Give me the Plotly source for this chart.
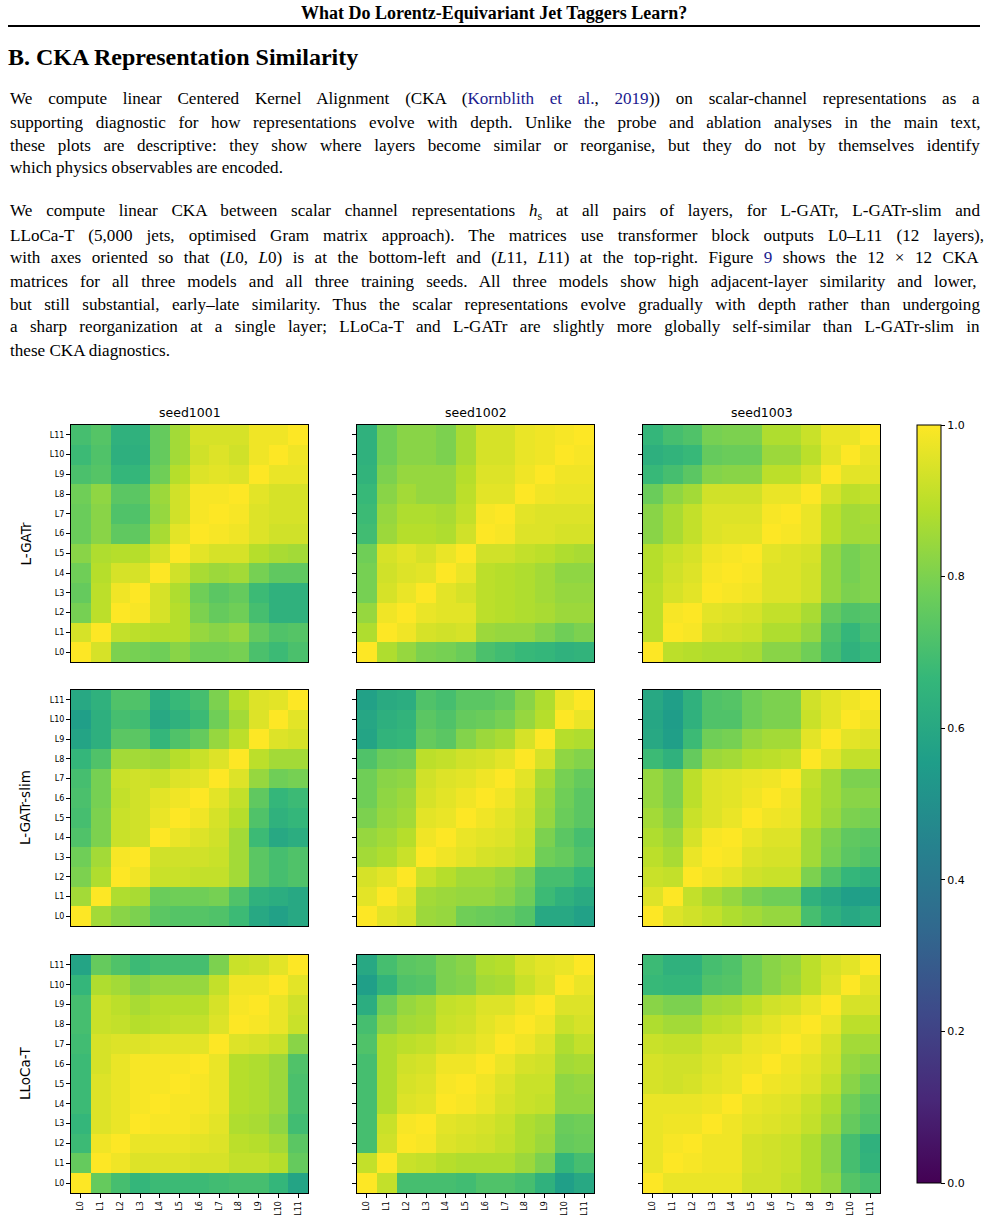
import plotly.graph_objects as go

W, H = 988, 1227

layers = [f"L{i}" for i in range(12)]
seeds = ["seed1001", "seed1002", "seed1003"]
models = ["L-GATr", "L-GATr-slim", "LLoCa-T"]

# Each matrix: rows listed top (L11) to bottom (L0); columns L0..L11
lgatr_s1001 = [
    [0.70, 0.73, 0.64, 0.64, 0.76, 0.86, 0.94, 0.94, 0.94, 0.98, 0.98, 1.00],
    [0.68, 0.72, 0.63, 0.63, 0.76, 0.86, 0.93, 0.95, 0.93, 0.98, 1.00, 0.98],
    [0.71, 0.73, 0.66, 0.66, 0.78, 0.89, 0.95, 0.96, 0.95, 1.00, 0.97, 0.97],
    [0.78, 0.83, 0.74, 0.74, 0.85, 0.93, 0.99, 0.99, 1.00, 0.96, 0.94, 0.94],
    [0.77, 0.82, 0.72, 0.72, 0.84, 0.93, 0.99, 1.00, 0.99, 0.95, 0.94, 0.94],
    [0.77, 0.82, 0.75, 0.75, 0.87, 0.96, 1.00, 0.99, 0.98, 0.95, 0.93, 0.93],
    [0.82, 0.88, 0.89, 0.89, 0.94, 1.00, 0.96, 0.94, 0.94, 0.89, 0.87, 0.86],
    [0.78, 0.89, 0.94, 0.94, 1.00, 0.93, 0.87, 0.85, 0.86, 0.79, 0.75, 0.75],
    [0.76, 0.90, 0.98, 1.00, 0.94, 0.88, 0.78, 0.74, 0.76, 0.68, 0.64, 0.64],
    [0.79, 0.90, 1.00, 0.99, 0.94, 0.89, 0.80, 0.76, 0.78, 0.70, 0.64, 0.64],
    [0.94, 1.00, 0.91, 0.90, 0.89, 0.89, 0.84, 0.82, 0.84, 0.76, 0.72, 0.73],
    [1.00, 0.94, 0.80, 0.79, 0.78, 0.82, 0.78, 0.78, 0.79, 0.71, 0.68, 0.71],
]
lgatr_s1002 = [
    [0.64, 0.78, 0.82, 0.82, 0.80, 0.87, 0.94, 0.94, 0.97, 0.98, 0.99, 1.00],
    [0.64, 0.78, 0.82, 0.82, 0.80, 0.87, 0.94, 0.94, 0.97, 0.98, 1.00, 0.99],
    [0.65, 0.80, 0.84, 0.84, 0.84, 0.89, 0.95, 0.95, 0.98, 1.00, 0.98, 0.98],
    [0.67, 0.82, 0.86, 0.84, 0.84, 0.90, 0.96, 0.96, 1.00, 0.98, 0.97, 0.97],
    [0.68, 0.84, 0.88, 0.88, 0.87, 0.91, 0.99, 1.00, 0.96, 0.95, 0.95, 0.95],
    [0.69, 0.85, 0.89, 0.89, 0.88, 0.93, 1.00, 0.99, 0.95, 0.95, 0.94, 0.94],
    [0.78, 0.94, 0.96, 0.94, 0.97, 1.00, 0.93, 0.93, 0.91, 0.90, 0.88, 0.87],
    [0.79, 0.93, 0.95, 0.96, 1.00, 0.97, 0.90, 0.89, 0.88, 0.86, 0.83, 0.83],
    [0.79, 0.94, 0.97, 1.00, 0.96, 0.94, 0.90, 0.89, 0.88, 0.86, 0.84, 0.84],
    [0.84, 0.98, 1.00, 0.97, 0.96, 0.96, 0.90, 0.89, 0.88, 0.87, 0.85, 0.85],
    [0.88, 1.00, 0.98, 0.94, 0.93, 0.94, 0.85, 0.84, 0.84, 0.81, 0.78, 0.80],
    [1.00, 0.88, 0.84, 0.80, 0.79, 0.77, 0.71, 0.69, 0.67, 0.66, 0.64, 0.65],
]
lgatr_s1003 = [
    [0.66, 0.70, 0.72, 0.79, 0.80, 0.80, 0.88, 0.88, 0.92, 0.97, 0.97, 1.00],
    [0.63, 0.65, 0.67, 0.76, 0.77, 0.77, 0.85, 0.85, 0.90, 0.96, 1.00, 0.97],
    [0.67, 0.70, 0.74, 0.81, 0.82, 0.82, 0.90, 0.90, 0.94, 1.00, 0.96, 0.96],
    [0.77, 0.83, 0.86, 0.93, 0.93, 0.93, 0.97, 0.97, 1.00, 0.94, 0.90, 0.91],
    [0.82, 0.87, 0.91, 0.95, 0.95, 0.95, 0.99, 1.00, 0.97, 0.90, 0.86, 0.87],
    [0.82, 0.87, 0.91, 0.95, 0.96, 0.96, 1.00, 0.99, 0.97, 0.90, 0.86, 0.86],
    [0.89, 0.92, 0.94, 0.98, 0.99, 1.00, 0.96, 0.95, 0.94, 0.84, 0.79, 0.81],
    [0.89, 0.93, 0.95, 0.99, 1.00, 0.99, 0.95, 0.95, 0.93, 0.84, 0.79, 0.81],
    [0.90, 0.94, 0.96, 1.00, 0.99, 0.98, 0.95, 0.95, 0.93, 0.84, 0.80, 0.81],
    [0.90, 0.99, 1.00, 0.96, 0.95, 0.94, 0.91, 0.91, 0.87, 0.76, 0.72, 0.73],
    [0.90, 1.00, 0.99, 0.94, 0.93, 0.92, 0.88, 0.88, 0.84, 0.72, 0.66, 0.70],
    [1.00, 0.90, 0.89, 0.88, 0.88, 0.87, 0.82, 0.82, 0.78, 0.70, 0.64, 0.67],
]
slim_s1001 = [
    [0.60, 0.64, 0.72, 0.72, 0.62, 0.67, 0.70, 0.80, 0.89, 0.95, 0.96, 1.00],
    [0.56, 0.63, 0.70, 0.69, 0.60, 0.64, 0.68, 0.78, 0.86, 0.95, 1.00, 0.96],
    [0.58, 0.63, 0.74, 0.74, 0.66, 0.72, 0.76, 0.84, 0.90, 1.00, 0.95, 0.94],
    [0.66, 0.72, 0.86, 0.86, 0.85, 0.89, 0.92, 0.95, 1.00, 0.90, 0.86, 0.86],
    [0.70, 0.79, 0.92, 0.93, 0.92, 0.95, 0.96, 1.00, 0.95, 0.84, 0.78, 0.79],
    [0.71, 0.79, 0.91, 0.93, 0.96, 0.98, 1.00, 0.96, 0.91, 0.75, 0.66, 0.68],
    [0.70, 0.80, 0.92, 0.93, 0.97, 1.00, 0.98, 0.94, 0.89, 0.72, 0.64, 0.66],
    [0.72, 0.80, 0.92, 0.93, 1.00, 0.97, 0.95, 0.93, 0.86, 0.68, 0.60, 0.62],
    [0.78, 0.86, 0.99, 1.00, 0.93, 0.93, 0.93, 0.92, 0.86, 0.74, 0.70, 0.72],
    [0.80, 0.88, 1.00, 0.98, 0.92, 0.92, 0.91, 0.91, 0.86, 0.74, 0.70, 0.72],
    [0.86, 1.00, 0.88, 0.87, 0.77, 0.78, 0.78, 0.79, 0.72, 0.64, 0.62, 0.60],
    [1.00, 0.86, 0.82, 0.80, 0.74, 0.73, 0.73, 0.72, 0.68, 0.60, 0.57, 0.60],
]
slim_s1002 = [
    [0.57, 0.61, 0.62, 0.72, 0.70, 0.74, 0.74, 0.76, 0.82, 0.88, 0.97, 1.00],
    [0.59, 0.63, 0.65, 0.74, 0.72, 0.76, 0.77, 0.79, 0.84, 0.89, 1.00, 0.97],
    [0.58, 0.65, 0.66, 0.76, 0.74, 0.81, 0.85, 0.87, 0.94, 1.00, 0.89, 0.88],
    [0.72, 0.77, 0.78, 0.90, 0.91, 0.93, 0.94, 0.96, 1.00, 0.94, 0.83, 0.81],
    [0.78, 0.82, 0.83, 0.93, 0.95, 0.96, 0.98, 1.00, 0.96, 0.87, 0.79, 0.76],
    [0.78, 0.83, 0.85, 0.94, 0.96, 0.98, 1.00, 0.98, 0.94, 0.85, 0.78, 0.74],
    [0.80, 0.84, 0.86, 0.96, 0.97, 1.00, 0.98, 0.96, 0.93, 0.84, 0.77, 0.74],
    [0.84, 0.86, 0.89, 0.98, 1.00, 0.97, 0.96, 0.95, 0.92, 0.80, 0.74, 0.70],
    [0.86, 0.88, 0.92, 1.00, 0.98, 0.96, 0.94, 0.93, 0.91, 0.78, 0.76, 0.72],
    [0.94, 0.96, 1.00, 0.92, 0.89, 0.86, 0.86, 0.84, 0.80, 0.70, 0.70, 0.66],
    [0.96, 1.00, 0.96, 0.86, 0.85, 0.84, 0.84, 0.82, 0.78, 0.68, 0.64, 0.61],
    [1.00, 0.96, 0.94, 0.85, 0.84, 0.78, 0.77, 0.76, 0.73, 0.60, 0.60, 0.57],
]
slim_s1003 = [
    [0.60, 0.56, 0.64, 0.72, 0.73, 0.78, 0.80, 0.80, 0.93, 0.96, 0.98, 1.00],
    [0.59, 0.55, 0.64, 0.72, 0.72, 0.78, 0.80, 0.80, 0.92, 0.96, 1.00, 0.98],
    [0.60, 0.56, 0.68, 0.78, 0.79, 0.84, 0.86, 0.86, 0.96, 1.00, 0.96, 0.95],
    [0.68, 0.64, 0.76, 0.85, 0.86, 0.89, 0.90, 0.91, 1.00, 0.96, 0.91, 0.91],
    [0.84, 0.80, 0.90, 0.95, 0.96, 0.97, 0.98, 1.00, 0.91, 0.86, 0.80, 0.80],
    [0.84, 0.80, 0.90, 0.95, 0.96, 0.98, 1.00, 0.98, 0.90, 0.86, 0.82, 0.82],
    [0.86, 0.82, 0.92, 0.95, 0.97, 1.00, 0.98, 0.97, 0.90, 0.85, 0.80, 0.79],
    [0.88, 0.85, 0.94, 0.99, 1.00, 0.97, 0.95, 0.95, 0.86, 0.80, 0.75, 0.74],
    [0.90, 0.87, 0.97, 1.00, 0.99, 0.95, 0.94, 0.94, 0.86, 0.79, 0.74, 0.72],
    [0.92, 0.91, 1.00, 0.98, 0.96, 0.93, 0.92, 0.92, 0.80, 0.72, 0.66, 0.64],
    [0.95, 1.00, 0.91, 0.87, 0.84, 0.80, 0.78, 0.78, 0.64, 0.60, 0.56, 0.56],
    [1.00, 0.95, 0.93, 0.91, 0.88, 0.86, 0.84, 0.84, 0.70, 0.64, 0.60, 0.62],
]
lloca_s1001 = [
    [0.58, 0.76, 0.72, 0.68, 0.70, 0.70, 0.70, 0.80, 0.92, 0.93, 0.96, 1.00],
    [0.66, 0.88, 0.86, 0.82, 0.84, 0.84, 0.84, 0.91, 0.98, 0.98, 1.00, 0.96],
    [0.70, 0.92, 0.90, 0.87, 0.89, 0.89, 0.89, 0.94, 0.99, 1.00, 0.97, 0.93],
    [0.70, 0.92, 0.91, 0.89, 0.90, 0.91, 0.91, 0.95, 1.00, 0.99, 0.97, 0.92],
    [0.69, 0.94, 0.95, 0.95, 0.96, 0.96, 0.96, 1.00, 0.95, 0.94, 0.92, 0.82],
    [0.68, 0.94, 0.97, 0.99, 0.99, 0.99, 1.00, 0.97, 0.89, 0.88, 0.85, 0.72],
    [0.68, 0.95, 0.97, 0.99, 0.99, 1.00, 0.99, 0.97, 0.89, 0.88, 0.85, 0.71],
    [0.68, 0.95, 0.97, 0.99, 1.00, 0.99, 0.99, 0.97, 0.89, 0.88, 0.85, 0.71],
    [0.66, 0.95, 0.97, 1.00, 0.99, 0.99, 0.98, 0.96, 0.88, 0.87, 0.83, 0.69],
    [0.68, 0.98, 1.00, 0.97, 0.97, 0.97, 0.96, 0.95, 0.90, 0.89, 0.86, 0.74],
    [0.76, 1.00, 0.98, 0.95, 0.95, 0.95, 0.94, 0.94, 0.91, 0.91, 0.89, 0.76],
    [1.00, 0.76, 0.70, 0.66, 0.68, 0.68, 0.68, 0.69, 0.70, 0.70, 0.66, 0.58],
]
lloca_s1002 = [
    [0.60, 0.70, 0.74, 0.75, 0.80, 0.82, 0.88, 0.89, 0.94, 0.96, 0.97, 1.00],
    [0.56, 0.65, 0.72, 0.73, 0.80, 0.81, 0.86, 0.87, 0.92, 0.95, 1.00, 0.97],
    [0.62, 0.78, 0.84, 0.86, 0.91, 0.92, 0.95, 0.95, 0.98, 1.00, 0.95, 0.95],
    [0.70, 0.82, 0.86, 0.87, 0.92, 0.93, 0.96, 0.98, 1.00, 0.98, 0.92, 0.94],
    [0.72, 0.88, 0.90, 0.91, 0.94, 0.95, 0.97, 1.00, 0.98, 0.95, 0.88, 0.91],
    [0.70, 0.88, 0.93, 0.94, 0.98, 0.98, 1.00, 0.97, 0.94, 0.93, 0.86, 0.87],
    [0.70, 0.88, 0.94, 0.95, 0.99, 1.00, 0.98, 0.95, 0.92, 0.92, 0.83, 0.84],
    [0.70, 0.88, 0.95, 0.96, 1.00, 0.99, 0.97, 0.94, 0.92, 0.91, 0.83, 0.83],
    [0.70, 0.92, 0.99, 1.00, 0.96, 0.95, 0.94, 0.92, 0.88, 0.86, 0.77, 0.78],
    [0.70, 0.93, 1.00, 0.99, 0.95, 0.94, 0.93, 0.91, 0.88, 0.85, 0.76, 0.77],
    [0.91, 1.00, 0.92, 0.91, 0.89, 0.88, 0.88, 0.88, 0.85, 0.80, 0.66, 0.70],
    [1.00, 0.91, 0.70, 0.70, 0.70, 0.69, 0.72, 0.72, 0.70, 0.64, 0.56, 0.60],
]
lloca_s1003 = [
    [0.68, 0.64, 0.64, 0.70, 0.72, 0.78, 0.82, 0.84, 0.90, 0.94, 0.96, 1.00],
    [0.67, 0.66, 0.66, 0.72, 0.73, 0.78, 0.82, 0.85, 0.90, 0.95, 1.00, 0.96],
    [0.82, 0.80, 0.80, 0.86, 0.87, 0.90, 0.93, 0.94, 0.97, 1.00, 0.94, 0.94],
    [0.88, 0.86, 0.86, 0.90, 0.91, 0.94, 0.96, 0.98, 1.00, 0.97, 0.90, 0.90],
    [0.92, 0.91, 0.91, 0.94, 0.94, 0.97, 0.98, 1.00, 0.98, 0.94, 0.86, 0.86],
    [0.94, 0.93, 0.93, 0.95, 0.97, 0.98, 1.00, 0.98, 0.96, 0.93, 0.84, 0.82],
    [0.94, 0.93, 0.94, 0.96, 0.97, 1.00, 0.98, 0.97, 0.95, 0.91, 0.82, 0.78],
    [0.97, 0.97, 0.97, 0.98, 1.00, 0.97, 0.96, 0.95, 0.92, 0.88, 0.78, 0.74],
    [0.97, 0.98, 0.98, 1.00, 0.98, 0.96, 0.95, 0.94, 0.91, 0.86, 0.76, 0.72],
    [0.97, 0.99, 1.00, 0.98, 0.98, 0.94, 0.93, 0.92, 0.88, 0.82, 0.70, 0.64],
    [0.97, 1.00, 0.99, 0.98, 0.98, 0.94, 0.93, 0.92, 0.88, 0.82, 0.70, 0.65],
    [1.00, 0.97, 0.97, 0.97, 0.97, 0.93, 0.93, 0.91, 0.88, 0.84, 0.73, 0.70],
]

matrices = [
    [lgatr_s1001, lgatr_s1002, lgatr_s1003],
    [slim_s1001, slim_s1002, slim_s1003],
    [lloca_s1001, lloca_s1002, lloca_s1003],
]

cbar_ticks = [0.0, 0.2, 0.4, 0.6, 0.8, 1.0]

# layout in pixels
col_px = [(71, 308), (357, 594), (643, 880)]
row_px = [(425, 662), (690, 926), (955, 1193)]


def px_x(p):
    return p / W


def px_y(p):
    return 1 - p / H


fig = go.Figure()
SANS = "DejaVu Sans"
SERIF = "Liberation Serif"

for r in range(3):
    for c in range(3):
        k = r * 3 + c + 1
        xa = "x" if k == 1 else f"x{k}"
        ya = "y" if k == 1 else f"y{k}"
        z = matrices[r][c][::-1]  # bottom row L0 first
        fig.add_trace(go.Heatmap(
            z=z, x=layers, y=layers, xaxis=xa, yaxis=ya,
            colorscale="Viridis", zmin=0, zmax=1,
            showscale=(k == 1),
            colorbar=dict(
                x=px_x(917), xanchor="left", xref="paper",
                y=px_y((425 + 1183) / 2), yanchor="middle",
                len=758, lenmode="pixels", thickness=24, thicknessmode="pixels",
                outlinecolor="black", outlinewidth=1,
                tickvals=cbar_ticks, ticktext=[f"{t:.1f}" for t in cbar_ticks],
                ticks="outside", ticklen=4, tickcolor="black",
                tickfont=dict(family=SANS, size=11, color="black"),
                xpad=0, ypad=0,
            ),
            hoverinfo="skip",
        ))
        xd = [px_x(col_px[c][0]), px_x(col_px[c][1])]
        yd = [px_y(row_px[r][1]), px_y(row_px[r][0])]
        xkey = "xaxis" if k == 1 else f"xaxis{k}"
        ykey = "yaxis" if k == 1 else f"yaxis{k}"
        fig.update_layout({
            xkey: dict(
                domain=xd, anchor=ya, showgrid=False, zeroline=False,
                showline=True, mirror=True, linecolor="black", linewidth=1,
                ticks="outside" if r == 2 else "", ticklen=4, tickcolor="black",
                showticklabels=(r == 2), tickangle=-90,
                tickfont=dict(family=SANS, size=8, color="black"),
                fixedrange=True,
            ),
            ykey: dict(
                domain=yd, anchor=xa, showgrid=False, zeroline=False,
                showline=True, mirror=True, linecolor="black", linewidth=1,
                ticks="outside", ticklen=4, tickcolor="black",
                showticklabels=(c == 0),
                tickfont=dict(family=SANS, size=8, color="black"),
                fixedrange=True,
            ),
        })

annotations = []
# column titles
for c, s in enumerate(seeds):
    annotations.append(dict(
        x=px_x((col_px[c][0] + col_px[c][1]) / 2), y=px_y(412), xref="paper", yref="paper",
        text=s, showarrow=False, xanchor="center", yanchor="middle",
        font=dict(family=SANS, size=12.5, color="black")))
# row labels
for r, m in enumerate(models):
    annotations.append(dict(
        x=px_x(25), y=px_y((row_px[r][0] + row_px[r][1]) / 2), xref="paper", yref="paper",
        text=m, showarrow=False, textangle=-90, xanchor="center", yanchor="middle",
        font=dict(family=SANS, size=13.5, color="black")))

# page text
annotations.append(dict(
    x=0.5, y=px_y(13), xref="paper", yref="paper", showarrow=False,
    text="<b>What Do Lorentz-Equivariant Jet Taggers Learn?</b>",
    xanchor="center", yanchor="middle", font=dict(family=SERIF, size=18, color="black")))
annotations.append(dict(
    x=px_x(6), y=px_y(57), xref="paper", yref="paper", showarrow=False,
    text="<b>B. CKA Representation Similarity</b>",
    xanchor="left", yanchor="middle", font=dict(family=SERIF, size=24, color="black")))

LINK = "#1b1b8f"
# (y in px, extra word spacing in px for justification, text)
lines = [
    (99, 11.5, "We compute linear Centered Kernel Alignment (CKA (<span style='color:%s'>Kornblith et al.</span>, <span style='color:%s'>2019</span>)) on scalar-channel representations as a" % (LINK, LINK)),
    (122, 8.3, "supporting diagnostic for how representations evolve with depth. Unlike the probe and ablation analyses in the main text,"),
    (145, 8.3, "these plots are descriptive: they show where layers become similar or reorganise, but they do not by themselves identify"),
    (168, 0, "which physics observables are encoded."),
    (212, 9.5, "We compute linear CKA between scalar channel representations <i>h</i><sub>s</sub> at all pairs of layers, for L-GATr, L-GATr-slim and"),
    (235, 9.8, "LLoCa-T (5,000 jets, optimised Gram matrix approach). The matrices use transformer block outputs L0–L11 (12 layers),"),
    (258, 6.2, "with axes oriented so that (<i>L</i>0, <i>L</i>0) is at the bottom-left and (<i>L</i>11, <i>L</i>11) at the top-right. Figure <span style='color:%s'>9</span> shows the 12 × 12 CKA" % LINK),
    (281, 7.8, "matrices for all three models and all three training seeds. All three models show high adjacent-layer similarity and lower,"),
    (304, 8.1, "but still substantial, early–late similarity. Thus the scalar representations evolve gradually with depth rather than undergoing"),
    (327, 8.1, "a sharp reorganization at a single layer; LLoCa-T and L-GATr are slightly more globally self-similar than L-GATr-slim in"),
    (350, 0, "these CKA diagnostics."),
]
for yy, ws, t in lines:
    txt = "<span style='word-spacing:%.1fpx'>%s</span>" % (ws, t) if ws else t
    annotations.append(dict(
        x=px_x(8), y=px_y(yy), xref="paper", yref="paper", showarrow=False,
        text=txt, xanchor="left", yanchor="middle", align="left",
        font=dict(family=SERIF, size=17.1, color="black")))

fig.update_layout(
    width=W, height=H, margin=dict(l=0, r=0, t=0, b=0),
    paper_bgcolor="white", plot_bgcolor="white",
    annotations=annotations,
    shapes=[dict(type="line", xref="paper", yref="paper",
                 x0=px_x(8), x1=px_x(980), y0=px_y(26), y1=px_y(26),
                 line=dict(color="black", width=2))],
    showlegend=False,
)

fig.write_html("out.html")
